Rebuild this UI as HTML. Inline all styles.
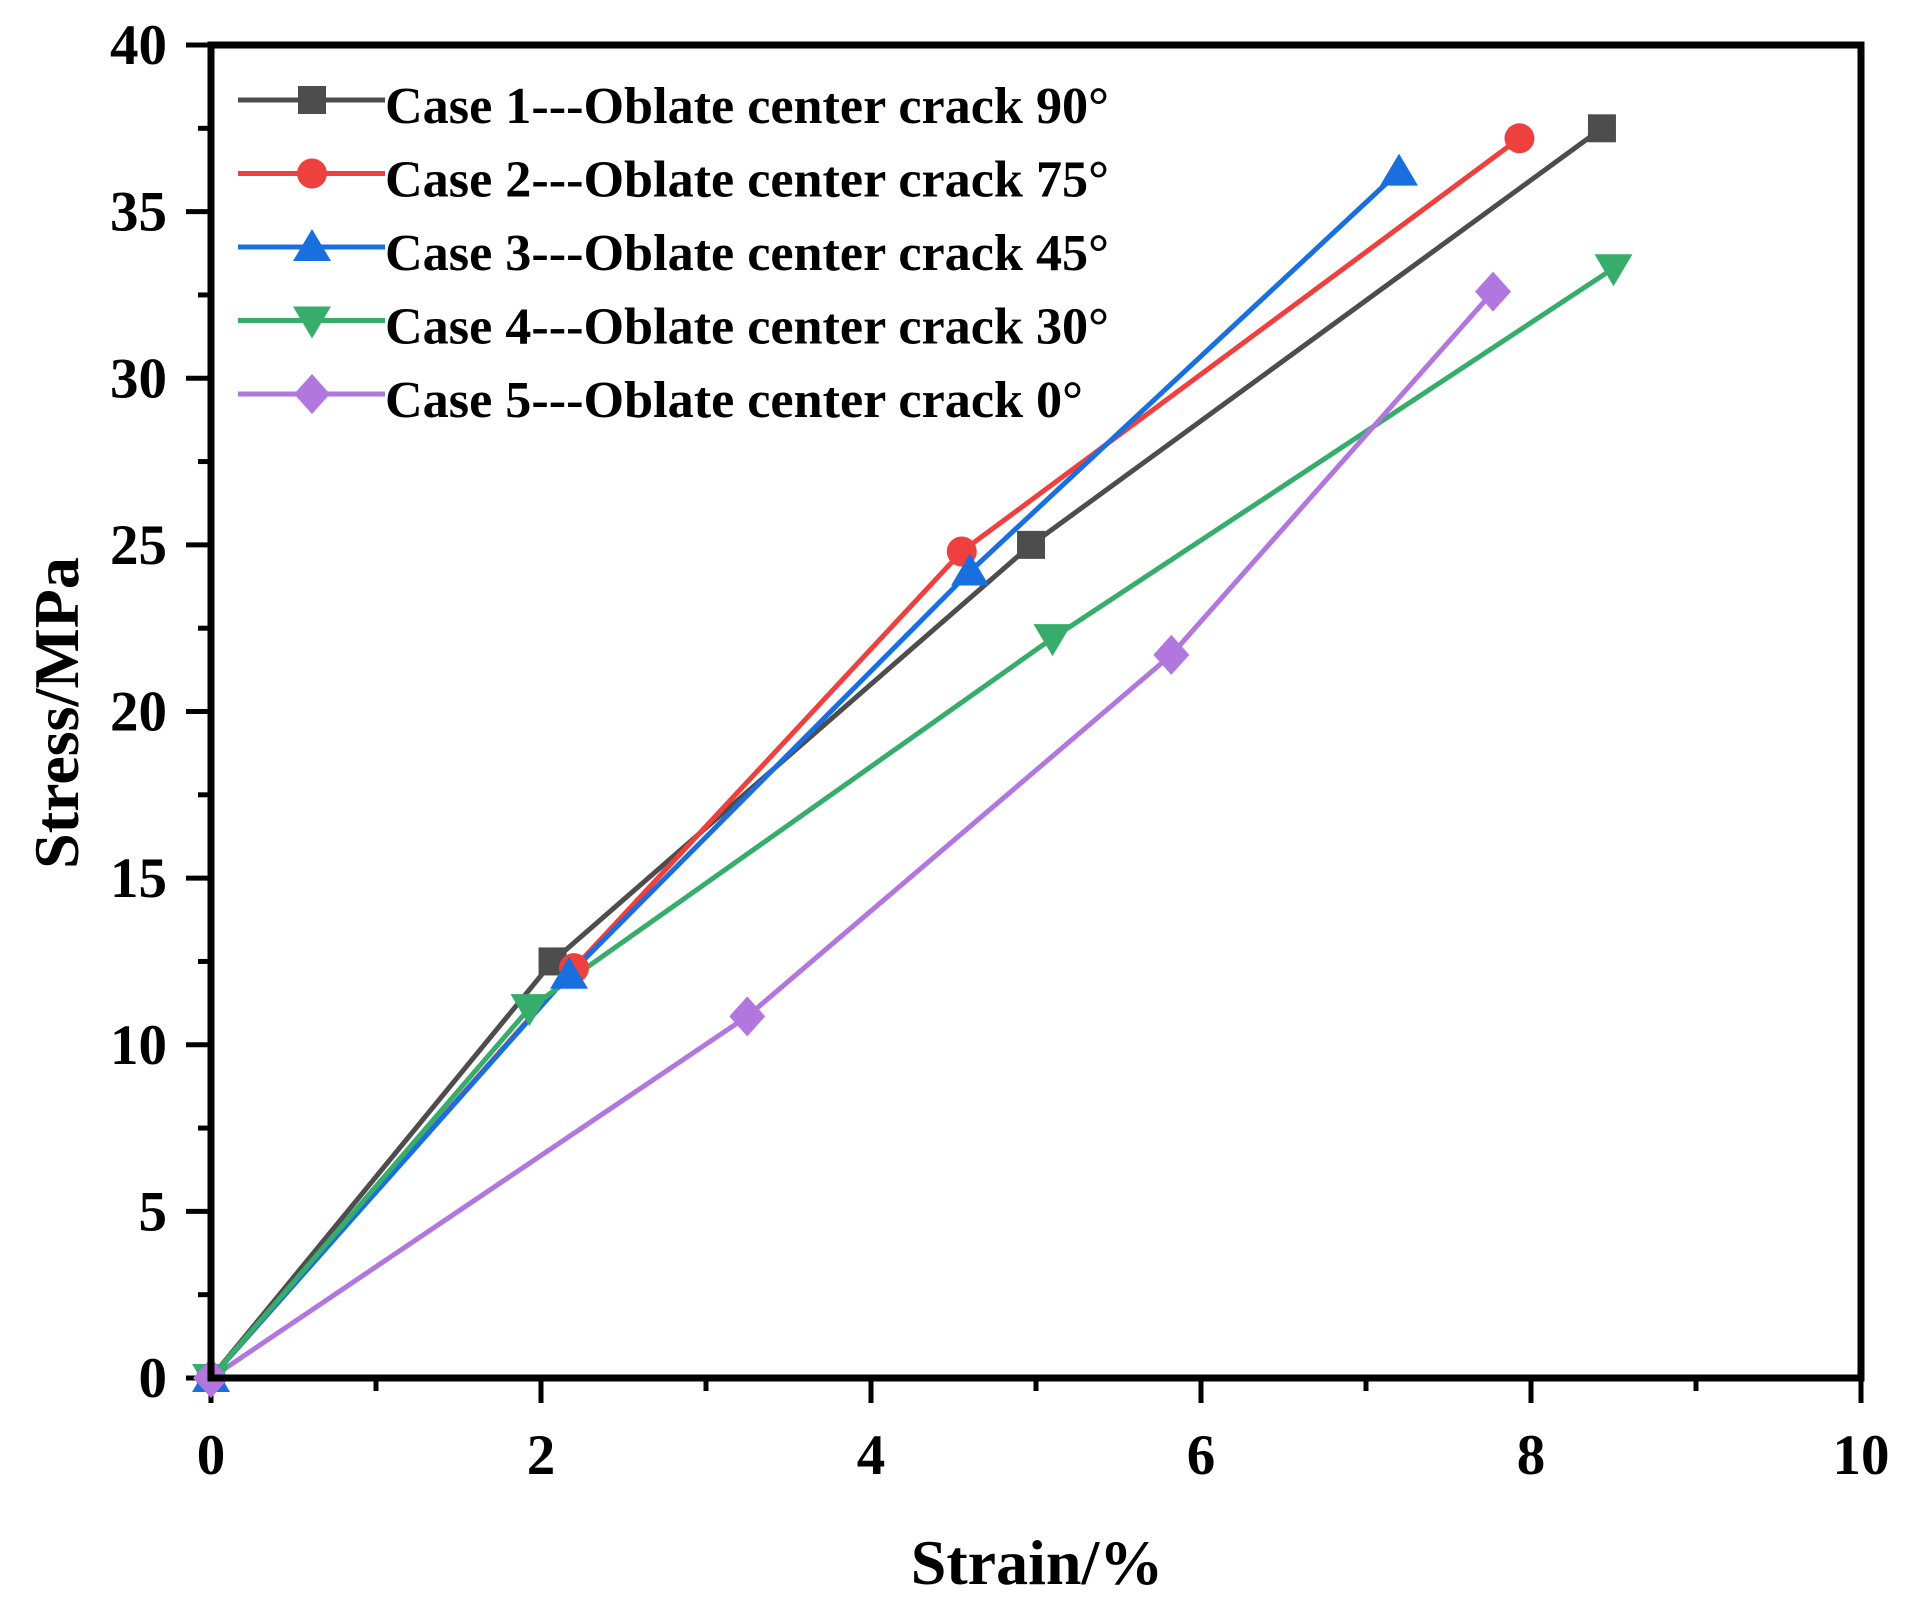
<!DOCTYPE html>
<html><head><meta charset="utf-8"><style>
html,body{margin:0;padding:0;background:#fff;}
svg{display:block;font-family:"Liberation Serif",serif;font-weight:bold;}
</style></head><body>
<svg id="chart" width="1920" height="1602" viewBox="0 0 1920 1602" xmlns="http://www.w3.org/2000/svg"></svg>
<script>
const caseNames = ["Case 1---Oblate center crack 90°","Case 2---Oblate center crack 75°","Case 3---Oblate center crack 45°","Case 4---Oblate center crack 30°","Case 5---Oblate center crack 0°"];
const colors = ["#4d4d4d","#ef4040","#1a6fdf","#37ad6b","#b177de"];
const markers = ["square","circle","triangle","invtriangle","diamond"];
const strain1 = [0, 2.07, 4.97, 8.43];
const stress1 = [0, 12.5, 25.0, 37.5];
const strain2 = [0, 2.2, 4.55, 7.93];
const stress2 = [0, 12.3, 24.8, 37.2];
const strain3 = [0, 2.17, 4.6, 7.2];
const stress3 = [0, 12.1, 24.2, 36.2];
const strain4 = [0, 1.93, 5.1, 8.5];
const stress4 = [0, 11.1, 22.2, 33.3];
const strain5 = [0, 3.25, 5.82, 7.77];
const stress5 = [0, 10.85, 21.7, 32.6];
const xTicks = [0,2,4,6,8,10];
const yTicks = [0,5,10,15,20,25,30,35,40];

const svg = document.getElementById('chart');
const NS = "http://www.w3.org/2000/svg";
const X0=211, X1=1861, Y0=1378, Y1=45;
const xs = v => X0 + (v/10)*(X1-X0);
const ys = v => Y0 - (v/40)*(Y0-Y1);
function mk(tag, attrs){const e=document.createElementNS(NS,tag);for(const k in attrs)e.setAttribute(k,attrs[k]);svg.appendChild(e);return e;}

for(let i=0;i<=10;i++){
  const x=xs(i); const major=i%2===0;
  const t=mk('line',{x1:x,y1:Y0,x2:x,y2:Y0+(major?25:13),stroke:'#000','stroke-width':5});
  
  
}
for(let i=0;i<=16;i++){
  const y=ys(i*2.5); const major=i%2===0;
  const t=mk('line',{x1:X0,y1:y,x2:X0-(major?25:13),y2:y,stroke:'#000','stroke-width':5});
  
  
}
xTicks.forEach(v=>{
  const t=mk('text',{x:xs(v),y:1474,'font-size':57,'text-anchor':'middle'});
  t.textContent=v;
  
  
});
yTicks.forEach(v=>{
  const t=mk('text',{x:167,y:ys(v)+19,'font-size':57,'text-anchor':'end'});
  t.textContent=v;
  
  
});
const xt=mk('text',{x:1037,y:1584,'font-size':64,'text-anchor':'middle'});
xt.textContent='Strain/%';


const yt=mk('text',{x:0,y:0,'font-size':64,'text-anchor':'middle',transform:'translate(78,713) rotate(-90)'});
yt.textContent='Stress/MPa';



function marker(type,cx,cy,color){
  let e;
  if(type==='square') e=mk('rect',{x:cx-14,y:cy-14,width:28,height:28,fill:color});
  else if(type==='circle') e=mk('circle',{cx:cx,cy:cy,r:15,fill:color});
  else if(type==='triangle') e=mk('polygon',{points:`${cx},${cy-18} ${cx+19},${cy+14} ${cx-19},${cy+14}`,fill:color});
  else if(type==='invtriangle') e=mk('polygon',{points:`${cx},${cy+18} ${cx+19},${cy-14} ${cx-19},${cy-14}`,fill:color});
  else e=mk('polygon',{points:`${cx},${cy-20} ${cx+18},${cy} ${cx},${cy+20} ${cx-18},${cy}`,fill:color});
  return e;
}
const series=[[strain1,stress1],[strain2,stress2],[strain3,stress3],[strain4,stress4],[strain5,stress5]];
series.forEach((s,k)=>{
  const pts=s[0].map((v,i)=>xs(v)+','+ys(s[1][i])).join(' ');
  const l=mk('polyline',{points:pts,fill:'none',stroke:colors[k],'stroke-width':5});
  
  
});
series.forEach((s,k)=>{
  s[0].forEach((v,i)=>{
    const m=marker(markers[k],xs(v),ys(s[1][i]),colors[k]);
    
    
  });
});
caseNames.forEach((n,k)=>{
  const y=100+k*73.5;
  const l=mk('line',{x1:238,y1:y,x2:385,y2:y,stroke:colors[k],'stroke-width':5});
  
  
  const m=marker(markers[k],312,y,colors[k]);
  
  
  const t=mk('text',{x:385,y:y+23,'font-size':52,textLength:(k===4?698:724),lengthAdjust:'spacingAndGlyphs'});
  t.textContent=n;
  
  
});
const f=mk('rect',{x:X0,y:Y1,width:X1-X0,height:Y0-Y1,fill:'none',stroke:'#000','stroke-width':7});


</script>
</body></html>
